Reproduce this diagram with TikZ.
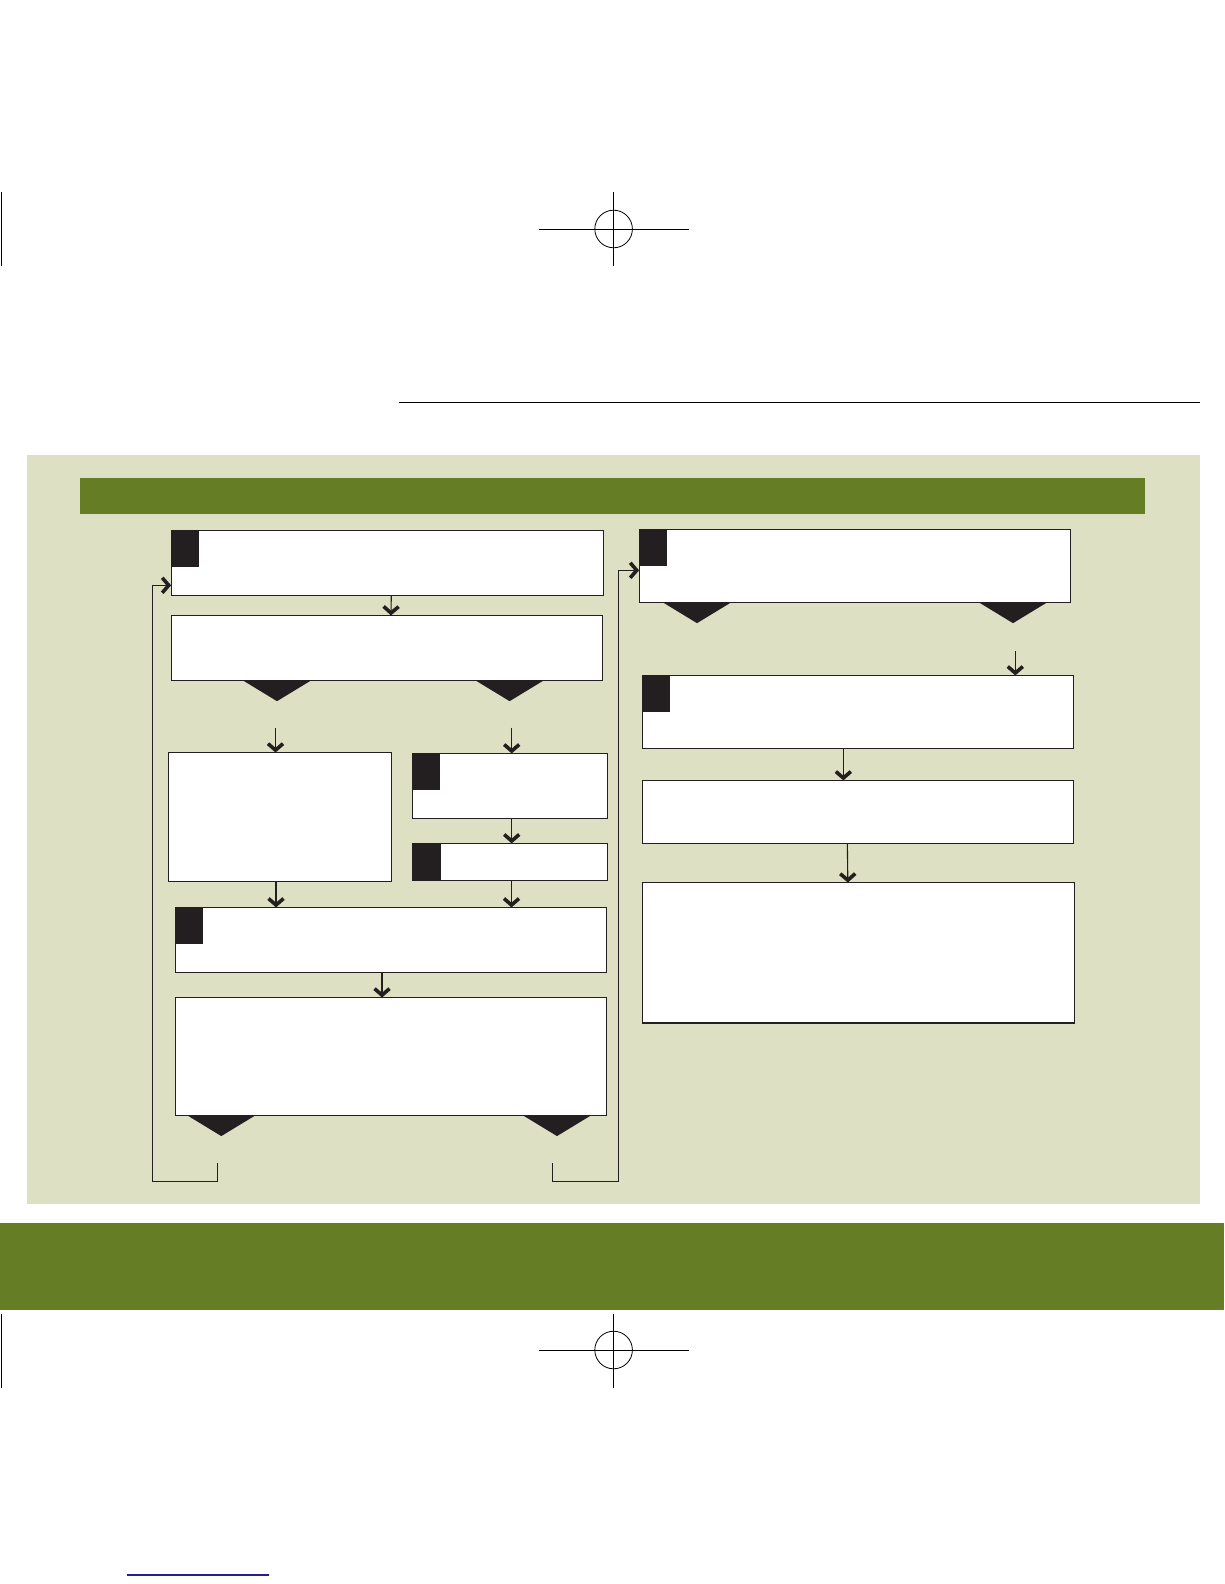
\documentclass[tikz,border=0pt]{standalone}
\usepackage{xcolor}
\usepackage{tikz}
\usetikzlibrary{arrows.meta,calc,positioning}

\definecolor{olivebar}{RGB}{101,125,37}
\definecolor{panelbg}{RGB}{221,224,194}
\definecolor{tabink}{RGB}{35,31,32}
\definecolor{linkblue}{RGB}{30,30,150}

\tikzset{
  flowbox/.style={draw=tabink, fill=white, line width=1.1bp, inner sep=0pt, outer sep=0pt},
  arr/.style={draw=tabink, line width=1.1bp, -{Straight Barb[length=6.5bp,width=15bp,line width=3.6bp 0]}},
  fback/.style={draw=tabink, line width=1bp},
  cropline/.style={line width=0.8bp}
}

\begin{document}
\begin{tikzpicture}[x=1bp, y=-1bp]
  \useasboundingbox (0,0) rectangle (1224,1584);

  % Crop marks
  \foreach \cy/\ya/\yb in {229/192/266, 1350/1314/1388} {
    \draw[cropline] (539.4,\cy) -- (688.5,\cy);
    \draw[cropline] (613.6,\ya) -- (613.6,\yb);
    \draw[cropline] (613.6,\cy) circle (18.8);
    \draw[cropline] (1,\ya) -- (1,\yb);
  }
  \draw[line width=1.3bp] (399,402.5) -- (1200,402.5);

  % Panel and bars
  \fill[panelbg] (27,455) rectangle (1200,1203.5);
  \fill[olivebar] (80,478.3) rectangle (1145,513.7);
  \fill[olivebar] (0,1223) rectangle (1224,1310);

  % Left column
  \node[flowbox, minimum width=434, minimum height=65] (top1) at (387.3,562.8) {};
  \node[flowbox, minimum width=433.4, minimum height=65] (mid1) at (387,647.8) {};
  \node[flowbox, minimum width=223.4, minimum height=129.4] (left1) at (280,817) {};
  \node[flowbox, minimum width=196, minimum height=65] (chk1) at (509.7,785.8) {};
  \node[flowbox, minimum width=195.4, minimum height=37.4] (chk2) at (510,862) {};
  \node[flowbox, minimum width=433.4, minimum height=65] (sub1) at (391,939.8) {};
  \node[flowbox, minimum width=433.4, minimum height=118] (res1) at (391,1056.3) {};

  % Right column
  \node[flowbox, minimum width=433.4, minimum height=73] (top2) at (855,565.8) {};
  \node[flowbox, minimum width=433.4, minimum height=73.4] (sub2) at (858,712) {};
  \node[flowbox, minimum width=433.4, minimum height=63] (mid2) at (858,811.8) {};
  \node[flowbox, minimum width=434.4, minimum height=141] (res2) at (858.5,952.8) {};

  % Number tabs
  \foreach \b in {top1, chk1, chk2, sub1, top2, sub2}
    \fill[tabink] (\b.north west) rectangle ++(28,37);

  % Branch wedges
  \foreach \b/\o in {mid1/71.4, mid1/304, res1/11.7, res1/347.4, top2/23.4, top2/339.4}
    \fill[tabink] ($(\b.south west)+(\o,0)$) -- ++(69,0) -- ++(-34.5,21) -- cycle;

  % Free ends below the wedges
  \coordinate (yesA) at (275.5,728);
  \coordinate (noA) at (511.7,727.5);
  \coordinate (noB) at (1015.3,651);
  \coordinate (backL) at (217.3,1163.3);
  \coordinate (backR) at (552.3,1163.3);

  % Connectors
  \draw[arr] ([xshift=4]top1.south) -- ([xshift=4]mid1.north);
  \draw[arr] (yesA) -- (yesA |- left1.north);
  \draw[arr] (noA) -- (noA |- chk1.north);
  \draw[arr] ([xshift=2]chk1.south) -- ([xshift=2]chk1.south |- chk2.north);
  \draw[arr] ([xshift=-4]left1.south) -- ([xshift=-4]left1.south |- sub1.north);
  \draw[arr] ([xshift=1.5]chk2.south) -- ([xshift=1.5]chk2.south |- sub1.north);
  \draw[arr] ([xshift=-9]sub1.south) -- ([xshift=-9]res1.north);
  \draw[arr] (noB) -- (noB |- sub2.north);
  \draw[arr] ([xshift=-14.7]sub2.south) -- ([xshift=-14.7]mid2.north);
  \draw[arr] ([xshift=-10.7]mid2.south) -- ([xshift=-10.7]res2.north);

  % Loops back
  \draw[fback] (backL) -- ++(0,18) -| ($(top1.west)+(-18.6,22.5)$);
  \draw[arr] ($(top1.west)+(-18.6,22.5)$) -- ($(top1.west)+(0,22.5)$);
  \draw[fback] (backR) -- ++(0,18) -| ($(top2.west)+(-20.5,4.5)$);
  \draw[arr] ($(top2.west)+(-20.5,4.5)$) -- ($(top2.west)+(0,4.5)$);

  % Footer link rule
  \draw[linkblue, line width=1.3bp] (127.3,1575) -- (269,1575);
\end{tikzpicture}
\end{document}
